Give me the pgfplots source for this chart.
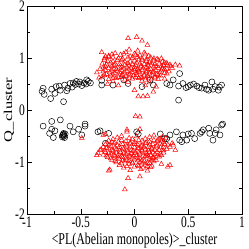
\documentclass[border=0pt]{standalone}
\usepackage{fontspec}
\usepackage{graphicx}
\usepackage{pgfplots}
\pgfplotsset{compat=1.18}
\setmainfont{Liberation Serif}[FakeStretch=0.72]
\newfontfamily\ylfont{Liberation Serif}
\begin{document}
\begin{tikzpicture}
\begin{axis}[
  scale only axis, width=215pt, height=208pt,
  xmin=-1, xmax=1, ymin=-2, ymax=2,
  xtick={-1,-0.5,0,0.5,1}, minor xtick={-0.75,-0.25,0.25,0.75},
  ytick={-2,-1,0,1,2}, minor ytick={-1.5,-0.5,0.5,1.5},
  xticklabels={-1,-0.5,0,0.5,1}, yticklabels={-2,-1,0,1,2},
  tick align=inside, major tick length=5pt, minor tick length=3pt,
  tick style={black, line width=0.5pt},
  axis line style={line width=0.6pt},
  /pgf/number format/assume math mode=true,
  ticklabel style={font=\fontsize{16}{16}\selectfont, inner sep=0pt},
  xticklabel style={yshift=-3pt},
  yticklabel style={xshift=-2pt},
  xlabel={\textless PL(Abelian monopoles)\textgreater\_cluster},
  xlabel style={font=\fontsize{16.5}{17}\selectfont, at={(axis description cs:0.5,0)}, anchor=north, inner sep=0pt, yshift=-18.5pt},
  clip=false,
]
% black circles
\addplot[only marks, mark=o, mark size=3pt, mark options={black, line width=0.5pt}] coordinates {
(-0.86,0.36) (-0.85,0.42) (-0.84,0.30) (-0.78,0.22) (-0.77,0.40) (-0.74,0.32) (-0.73,0.45) (-0.70,0.46)
(-0.69,0.38) (-0.66,0.16) (-0.65,0.48) (-0.63,0.37) (-0.62,0.42) (-0.60,0.51) (-0.58,0.44) (-0.57,0.52)
(-0.55,0.49) (-0.54,0.55) (-0.52,0.50) (-0.51,0.54) (-0.49,0.47) (-0.47,0.52) (-0.45,0.50) (-0.43,0.55)
(-0.41,0.52) (-0.305,0.48) (-0.305,0.57) (-0.20,0.48) (-0.06,0.51) (-0.445,0.58) (-0.10,0.58) (0.145,0.58)
(0.07,0.45) (0.175,0.48) (0.30,0.51) (0.33,0.48) (0.36,0.58) (0.41,0.46) (0.42,0.70) (0.41,0.19)
(0.45,0.51) (0.48,0.43) (0.50,0.45) (0.52,0.48) (0.55,0.50) (0.58,0.46) (0.60,0.43) (0.625,0.42)
(0.655,0.48) (0.67,0.40) (0.69,0.38) (0.72,0.54) (0.73,0.40) (0.75,0.45) (0.78,0.38) (0.79,0.44) (0.81,0.48)
(-0.85,-0.31) (-0.77,-0.22) (-0.77,-0.37) (-0.79,-0.45) (-0.755,-0.53) (-0.74,-0.40) (-0.69,-0.19)
(-0.66,-0.45) (-0.665,-0.48) (-0.655,-0.50) (-0.67,-0.52) (-0.65,-0.53) (-0.66,-0.47) (-0.645,-0.46) (-0.67,-0.49)
(-0.60,-0.31) (-0.57,-0.42) (-0.52,-0.37) (-0.49,-0.48) (-0.46,-0.31) (-0.46,-0.27) (-0.34,-0.42) (-0.32,-0.40)
(-0.24,-0.45) (-0.27,-0.64)
(0.035,-0.46) (0.02,-0.42) (0.24,-0.46) (0.28,-0.55) (0.30,-0.55) (0.33,-0.48) (0.39,-0.42) (0.42,-0.58)
(0.44,-0.61) (0.45,-0.48) (0.485,-0.58) (0.50,-0.46) (0.53,-0.45) (0.56,-0.55) (0.61,-0.45) (0.625,-0.42)
(0.64,-0.38) (0.69,-0.35) (0.70,-0.45) (0.73,-0.58) (0.75,-0.45) (0.76,-0.38) (0.795,-0.48) (0.81,-0.29) (0.82,-0.27)
};
% red triangles
\addplot[only marks, mark=triangle, mark size=2.8pt, mark options={red, line width=0.5pt}] coordinates {
(-0.06,1.38) (0.02,1.40) (0.07,1.33) (0.12,1.25) (-0.305,1.11) (-0.27,1.03) (0.25,0.99) (0.33,0.87)
(0.38,0.87) (0.42,0.85) (0.305,0.87) (0.00,0.38) (0.035,0.26) (0.08,0.26) (0.12,0.27) (0.175,0.35)
(0.20,0.45) (0.01,-0.12) (0.05,-0.13) (-0.35,0.72) (-0.33,0.62) (-0.25,0.50) (-0.15,0.47) (0.10,0.47) (0.28,0.60)
(-0.05,1.16) (0.03,1.14)
(-0.18,1.09) (-0.08,1.11) (0.00,1.08) (0.09,1.10)
(-0.24,1.04) (-0.13,1.06) (-0.04,1.03) (0.05,1.05) (0.13,1.04)
(-0.28,0.99) (-0.20,1.01) (-0.11,0.98) (-0.02,1.00) (0.07,0.99) (0.15,1.01) (0.21,0.98)
(-0.25,0.94) (-0.16,0.96) (-0.09,0.93) (0.00,0.95) (0.04,0.97) (0.11,0.94) (0.18,0.95) (0.26,0.93)
(-0.30,0.89) (-0.22,0.91) (-0.14,0.88) (-0.06,0.90) (0.02,0.91) (0.09,0.88) (0.16,0.90) (0.23,0.89) (0.28,0.91)
(-0.27,0.84) (-0.19,0.86) (-0.12,0.83) (-0.05,0.85) (0.01,0.86) (0.06,0.83) (0.13,0.85) (0.20,0.84) (0.27,0.86) (0.34,0.84)
(-0.32,0.79) (-0.24,0.81) (-0.17,0.78) (-0.10,0.80) (-0.03,0.81) (0.03,0.78) (0.08,0.80) (0.15,0.79) (0.22,0.81) (0.30,0.79)
(-0.29,0.74) (-0.21,0.76) (-0.14,0.73) (-0.07,0.75) (0.00,0.76) (0.05,0.73) (0.11,0.75) (0.18,0.74) (0.25,0.76) (0.32,0.74)
(-0.26,0.69) (-0.18,0.71) (-0.11,0.68) (-0.04,0.70) (0.02,0.71) (0.09,0.68) (0.14,0.70) (0.21,0.69) (0.28,0.71)
(-0.30,0.64) (-0.22,0.66) (-0.15,0.63) (-0.08,0.65) (-0.01,0.66) (0.06,0.63) (0.12,0.65) (0.19,0.64) (0.24,0.66)
(-0.24,0.59) (-0.17,0.61) (-0.09,0.58) (-0.02,0.60) (0.04,0.61) (0.10,0.58) (0.16,0.60) (0.22,0.59)
(-0.20,0.55) (-0.06,0.54) (0.07,0.56) (0.14,0.53)
(-0.21,1.07) (-0.10,1.08) (0.01,1.06) (0.10,1.07)
(-0.24,1.02) (-0.15,0.99) (-0.06,1.01) (0.03,1.02) (0.11,0.97) (0.18,0.99)
(-0.28,0.96) (-0.20,0.93) (-0.12,0.96) (-0.04,0.93) (0.07,0.96) (0.14,0.92) (0.22,0.96) (0.30,0.90)
(-0.26,0.87) (-0.18,0.89) (-0.09,0.87) (-0.02,0.88) (0.05,0.89) (0.12,0.87) (0.19,0.88) (0.25,0.84)
(-0.29,0.82) (-0.21,0.84) (-0.14,0.82) (-0.07,0.83) (0.00,0.82) (0.06,0.85) (0.11,0.82) (0.18,0.83) (0.26,0.80) (0.35,0.81)
(-0.27,0.77) (-0.19,0.79) (-0.12,0.77) (-0.05,0.78) (0.01,0.79) (0.07,0.77) (0.13,0.78) (0.20,0.77) (0.28,0.78)
(-0.23,0.72) (-0.16,0.74) (-0.09,0.72) (-0.02,0.73) (0.04,0.74) (0.11,0.72) (0.17,0.73) (0.24,0.72) (0.30,0.70)
(-0.28,0.67) (-0.20,0.68) (-0.12,0.67) (-0.05,0.68) (0.02,0.67) (0.09,0.66) (0.16,0.68) (0.22,0.67)
(-0.20,0.62) (-0.12,0.63) (-0.05,0.62) (0.01,0.63) (0.07,0.62) (0.13,0.62) (0.19,0.62)
(-0.09,-1.53) (-0.35,-0.87) (-0.23,-1.15) (-0.24,-1.17) (-0.06,-1.31) (0.05,-1.28) (0.31,-1.09) (0.33,-1.06)
(0.38,-0.77) (0.35,-0.64) (0.36,-0.67) (-0.07,-0.38) (0.05,-0.37) (-0.29,-0.48) (-0.27,-0.46) (-0.32,-0.77)
(-0.49,-0.54) (-0.34,-0.83) (-0.07,-0.42)
(-0.12,-0.50) (0.02,-0.51) (0.18,-0.49) (0.26,-0.52)
(-0.20,-0.56) (-0.05,-0.54) (0.10,-0.55) (0.22,-0.57) (0.29,-0.54)
(-0.24,-0.59) (-0.15,-0.61) (-0.08,-0.60) (0.00,-0.62) (0.07,-0.59) (0.14,-0.61) (0.21,-0.60) (0.27,-0.62)
(-0.27,-0.66) (-0.19,-0.64) (-0.11,-0.66) (-0.04,-0.65) (0.03,-0.67) (0.10,-0.64) (0.17,-0.66) (0.24,-0.65) (0.31,-0.67)
(-0.29,-0.71) (-0.22,-0.69) (-0.14,-0.71) (-0.07,-0.70) (0.00,-0.72) (0.06,-0.69) (0.13,-0.71) (0.20,-0.70) (0.27,-0.72)
(-0.31,-0.76) (-0.24,-0.74) (-0.17,-0.76) (-0.10,-0.75) (-0.03,-0.77) (0.04,-0.74) (0.10,-0.76) (0.16,-0.75) (0.23,-0.77) (0.30,-0.75)
(-0.27,-0.81) (-0.20,-0.79) (-0.13,-0.81) (-0.06,-0.80) (0.01,-0.82) (0.07,-0.79) (0.14,-0.81) (0.21,-0.80) (0.27,-0.82)
(-0.29,-0.86) (-0.22,-0.84) (-0.15,-0.86) (-0.08,-0.85) (-0.01,-0.87) (0.05,-0.84) (0.12,-0.86) (0.19,-0.85) (0.25,-0.87)
(-0.25,-0.91) (-0.18,-0.89) (-0.11,-0.91) (-0.04,-0.90) (0.03,-0.92) (0.10,-0.89) (0.17,-0.91) (0.23,-0.90)
(-0.21,-0.96) (-0.14,-0.94) (-0.07,-0.96) (0.00,-0.95) (0.07,-0.97) (0.14,-0.94) (0.20,-0.96)
(-0.17,-1.01) (-0.09,-0.99) (-0.02,-1.01) (0.05,-1.00) (0.12,-1.02) (0.18,-0.99)
(-0.14,-1.06) (-0.05,-1.04) (0.03,-1.06) (0.10,-1.05) (0.16,-1.07) (0.25,-1.04)
(-0.10,-1.11) (0.00,-1.09) (0.08,-1.11) (0.15,-1.10)
(-0.04,-1.16) (0.06,-1.14) (0.12,-1.17)
(-0.16,-0.53) (-0.02,-0.56) (0.14,-0.52) (0.24,-0.55)
(-0.21,-0.62) (-0.12,-0.58) (-0.04,-0.63) (0.04,-0.58) (0.11,-0.63) (0.18,-0.58) (0.25,-0.59)
(-0.24,-0.67) (-0.16,-0.68) (-0.08,-0.67) (0.00,-0.66) (0.07,-0.68) (0.14,-0.67) (0.21,-0.68) (0.28,-0.66)
(-0.26,-0.73) (-0.18,-0.72) (-0.11,-0.73) (-0.04,-0.72) (0.03,-0.73) (0.09,-0.72) (0.16,-0.73) (0.24,-0.72) (0.33,-0.71)
(-0.28,-0.78) (-0.21,-0.77) (-0.14,-0.78) (-0.07,-0.78) (-0.01,-0.79) (0.07,-0.77) (0.13,-0.78) (0.19,-0.77) (0.27,-0.78)
(-0.24,-0.83) (-0.17,-0.82) (-0.10,-0.83) (-0.03,-0.83) (0.04,-0.82) (0.11,-0.83) (0.17,-0.82) (0.24,-0.84)
(-0.26,-0.88) (-0.19,-0.87) (-0.12,-0.88) (-0.05,-0.88) (0.02,-0.87) (0.08,-0.88) (0.15,-0.87) (0.21,-0.88)
(-0.22,-0.93) (-0.15,-0.92) (-0.08,-0.93) (-0.02,-0.92) (0.05,-0.93) (0.12,-0.92) (0.18,-0.93)
(-0.18,-0.98) (-0.11,-0.97) (-0.05,-0.98) (0.03,-0.97) (0.09,-0.98) (0.16,-0.97)
(-0.12,-1.03) (-0.02,-1.02) (0.07,-1.03) (0.14,-1.02)
(-0.07,-1.08) (0.04,-1.08) (0.12,-1.08)
};
\coordinate (sw) at (rel axis cs:0,0);
\coordinate (ne) at (rel axis cs:1,1);
\coordinate (yl) at (rel axis cs:0,0.5);
\end{axis}
\node[rotate=90, anchor=center, inner sep=0pt] at ([xshift=-18pt]yl) {\scalebox{1}[0.72]{\ylfont\fontsize{16.5}{17}\selectfont Q\_cluster}};
\pgfresetboundingbox
\path ([shift={(-27pt,-35pt)}]sw) rectangle ([shift={(7pt,6pt)}]ne);
\end{tikzpicture}
\end{document}
